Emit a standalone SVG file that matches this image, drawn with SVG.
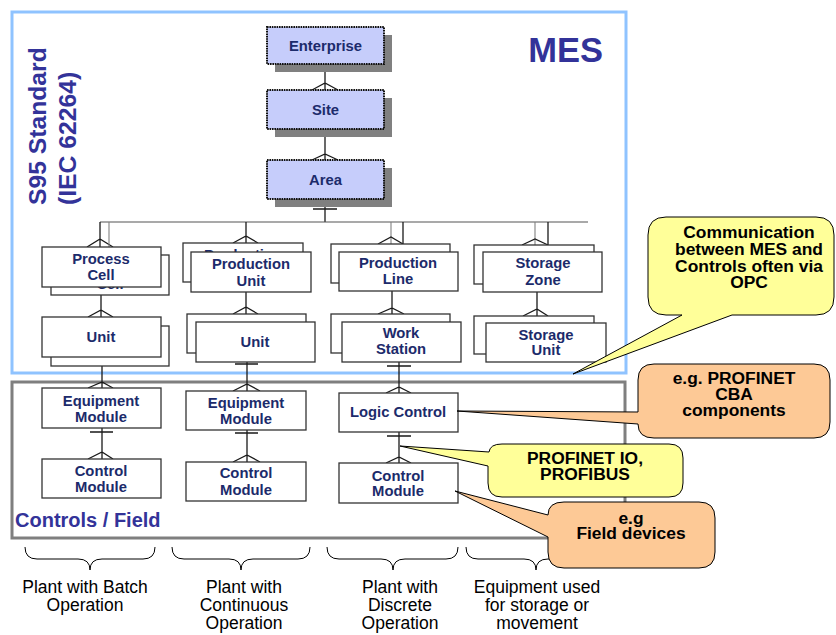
<svg xmlns="http://www.w3.org/2000/svg" width="836" height="635" viewBox="0 0 836 635">
<defs>
<style>
.frame-mes{fill:none;stroke:#8fc3ff;stroke-width:3}
.frame-ctl{fill:none;stroke:#7f7f7f;stroke-width:3}
.title{font-family:"Liberation Sans",Arial,sans-serif;font-weight:bold;fill:#333399}
.box{fill:#fff;stroke:#333;stroke-width:1.3}
.top{fill:#c6cdfb;stroke:#111;stroke-width:2;stroke-dasharray:1.6 0.8}
.shadow{fill:#808080}
.lbl{font-family:"Liberation Sans",Arial,sans-serif;font-weight:bold;font-size:14.8px;fill:#1c2b6b;text-anchor:middle}
.conn{fill:none;stroke:#1a1a1a;stroke-width:1.3}
.bus{fill:none;stroke:#555;stroke-width:1.2}
.thin{fill:none;stroke:#808080;stroke-width:1.1}
.yel{fill:#ffff99;stroke:#000;stroke-width:1}
.org{fill:#fdc996;stroke:#000;stroke-width:1}
.note{font-family:"Liberation Sans",Arial,sans-serif;font-weight:bold;font-size:17.4px;fill:#000;text-anchor:middle}
.brace{fill:none;stroke:#000;stroke-width:1}
.cap{font-family:"Liberation Sans",Arial,sans-serif;font-size:17.5px;fill:#000;text-anchor:middle}
</style>
</defs>

<!-- region frames -->
<g id="region-mes">
  <rect class="frame-mes" x="12" y="12" width="614" height="361"/>
  <text class="title" x="603" y="62" font-size="34.5" text-anchor="end">MES</text>
  <text class="title" font-size="24.7" transform="translate(46,205) rotate(-90)">S95 Standard</text>
  <text class="title" font-size="24.7" transform="translate(76,205) rotate(-90)">(IEC 62264)</text>
</g>
<g id="region-controls">
  <rect class="frame-ctl" x="12" y="382" width="613" height="156"/>
  <text class="title" x="15" y="527" font-size="20">Controls / Field</text>
</g>

<!-- connectors: lines, bars (one) and crow's feet (many) -->
<g id="connectors">
  <!-- enterprise / site / area chain -->
  <path class="conn" d="M325,64 V90 M312,90 L325,83 L338,90"/>
  <path class="conn" d="M325,129 V160 M313,133 H338 M312,160 L325,154 L338,160"/>
  <path class="conn" d="M325,199 V222 M313,209 H337"/>
  <path class="bus" d="M100,222 H588"/>
  <!-- batch column -->
  <path class="conn" d="M100,222 V247 M87,247 L100,239 L113,247"/>
  <path class="thin" d="M109,222 V255"/>
  <path class="conn" d="M101,287 V317 M90,290 H113 M88,317 L101,310 L113,317"/>
  <path class="conn" d="M102,357 V388 M90,361 H113 M88,388 L102,382 L113,388"/>
  <path class="conn" d="M102,428 V459 M90,432 H113 M88,459 L102,452 L113,459"/>
  <!-- continuous column -->
  <path class="conn" d="M246,222 V243 M233,243 L246,236 L258,243"/>
  <path class="conn" d="M246,292 V314 M233,314 L246,307 L258,314"/>
  <path class="conn" d="M247,362 V391 M235,364 H258 M233,391 L247,384 L260,391"/>
  <path class="conn" d="M247,430 V462 M235,433 H258 M233,462 L247,455 L260,462"/>
  <!-- discrete column -->
  <path class="thin" d="M391,222 V244"/>
  <path class="conn" d="M378,244 L391,237 L403,244"/>
  <path class="conn" d="M403,222 V252" stroke-width="1.6"/>
  <path class="conn" d="M392,291 V314 M378,314 L392,308 L404,314"/>
  <path class="conn" d="M399,362 V393 M387,366 H411 M386,393 L399,387 L411,393"/>
  <path class="conn" d="M399,432 V463 M387,436 H411 M386,463 L399,457 L411,463"/>
  <!-- storage column -->
  <path class="thin" d="M535,222 V245"/>
  <path class="conn" d="M522,245 L535,239 L548,245"/>
  <path class="conn" d="M548,222 V252" stroke-width="1.6"/>
  <path class="conn" d="M537,292 V316 M523,316 L537,309 L548,316"/>
</g>

<!-- top hierarchy -->
<g id="enterprise">
  <rect class="shadow" x="275" y="35" width="117" height="37"/>
  <rect class="top" x="267" y="27" width="117" height="37"/>
  <text class="lbl" x="325.5" y="51">Enterprise</text>
</g>
<g id="site">
  <rect class="shadow" x="275" y="98" width="117" height="39"/>
  <rect class="top" x="267" y="90" width="117" height="39"/>
  <text class="lbl" x="325.5" y="115">Site</text>
</g>
<g id="area">
  <rect class="shadow" x="275" y="168" width="117" height="39"/>
  <rect class="top" x="267" y="160" width="117" height="39"/>
  <text class="lbl" x="325.5" y="185">Area</text>
</g>

<!-- batch plant -->
<g id="process-cell">
  <rect class="box" x="51" y="255" width="118" height="40"/>
  <text class="lbl" x="110" y="272">Process</text>
  <text class="lbl" x="110" y="289">Cell</text>
  <rect class="box" x="42" y="247" width="119" height="40"/>
  <text class="lbl" x="101" y="264">Process</text>
  <text class="lbl" x="101" y="280">Cell</text>
</g>
<g id="unit-batch">
  <rect class="box" x="51" y="326" width="118" height="40"/>
  <rect class="box" x="42" y="317" width="119" height="40"/>
  <text class="lbl" x="101" y="342">Unit</text>
</g>
<g id="equipment-module-batch">
  <rect class="box" x="42" y="388" width="119" height="40"/>
  <text class="lbl" x="101" y="406">Equipment</text>
  <text class="lbl" x="101" y="422">Module</text>
</g>
<g id="control-module-batch">
  <rect class="box" x="42" y="459" width="119" height="39"/>
  <text class="lbl" x="101" y="476">Control</text>
  <text class="lbl" x="101" y="492">Module</text>
</g>

<!-- continuous plant -->
<g id="production-unit">
  <rect class="box" x="183" y="243" width="120" height="39"/>
  <text class="lbl" x="243" y="260">Production</text>
  <text class="lbl" x="243" y="277">Unit</text>
  <rect class="box" x="191" y="252" width="120" height="40"/>
  <text class="lbl" x="251" y="269">Production</text>
  <text class="lbl" x="251" y="286">Unit</text>
</g>
<g id="unit-continuous">
  <rect class="box" x="187" y="314" width="119" height="39"/>
  <rect class="box" x="196" y="322" width="119" height="40"/>
  <text class="lbl" x="255" y="347">Unit</text>
</g>
<g id="equipment-module-continuous">
  <rect class="box" x="186" y="391" width="120" height="39"/>
  <text class="lbl" x="246" y="408">Equipment</text>
  <text class="lbl" x="246" y="424">Module</text>
</g>
<g id="control-module-continuous">
  <rect class="box" x="186" y="462" width="120" height="39"/>
  <text class="lbl" x="246" y="478">Control</text>
  <text class="lbl" x="246" y="495">Module</text>
</g>

<!-- discrete plant -->
<g id="production-line">
  <rect class="box" x="331" y="244" width="119" height="39"/>
  <rect class="box" x="339" y="252" width="119" height="39"/>
  <text class="lbl" x="398" y="268">Production</text>
  <text class="lbl" x="398" y="284">Line</text>
</g>
<g id="work-station">
  <rect class="box" x="331" y="314" width="119" height="39"/>
  <rect class="box" x="342" y="322" width="119" height="40"/>
  <text class="lbl" x="401" y="338">Work</text>
  <text class="lbl" x="401" y="354">Station</text>
</g>
<g id="logic-control">
  <rect class="box" x="339" y="393" width="119" height="39"/>
  <text class="lbl" x="398" y="417">Logic Control</text>
</g>
<g id="control-module-discrete">
  <rect class="box" x="339" y="463" width="119" height="40"/>
  <text class="lbl" x="398" y="481">Control</text>
  <text class="lbl" x="398" y="496">Module</text>
</g>

<!-- storage / movement -->
<g id="storage-zone">
  <rect class="box" x="474" y="245" width="120" height="39"/>
  <rect class="box" x="483" y="252" width="119" height="40"/>
  <text class="lbl" x="543" y="268">Storage</text>
  <text class="lbl" x="543" y="285">Zone</text>
</g>
<g id="storage-unit">
  <rect class="box" x="474" y="316" width="120" height="38"/>
  <rect class="box" x="486" y="323" width="120" height="39"/>
  <text class="lbl" x="546" y="340">Storage</text>
  <text class="lbl" x="546" y="355">Unit</text>
</g>

<!-- callouts -->
<g id="note-opc">
  <path class="yel" d="M666,217 H816 Q834,217 834,235 V297 Q834,315 816,315 H732 L573,374 L682,315 H666 Q648,315 648,297 V235 Q648,217 666,217 Z"/>
  <text class="note" x="749" y="238">Communication</text>
  <text class="note" x="749" y="255">between MES and</text>
  <text class="note" x="749" y="272">Controls often via</text>
  <text class="note" x="749" y="288">OPC</text>
</g>
<g id="note-cba">
  <path class="org" d="M654,364 H814 Q830,364 830,380 V422 Q830,438 814,438 H654 Q638,438 638,424 L457,411 L638,412 V380 Q638,364 654,364 Z"/>
  <text class="note" x="734" y="384">e.g. PROFINET</text>
  <text class="note" x="734" y="400">CBA</text>
  <text class="note" x="734" y="416">components</text>
</g>
<g id="note-fieldbus">
  <path class="yel" d="M502,444 H669 Q683,444 683,458 V483 Q683,497 669,497 H502 Q488,497 488,483 V466 L400,446 L489,452 Q490,444 502,444 Z"/>
  <text class="note" x="585" y="464">PROFINET IO,</text>
  <text class="note" x="585" y="480">PROFIBUS</text>
</g>

<!-- braces and plant types -->
<g id="plant-types">
  <path class="brace" d="M25,547 Q25,559 37,559 H78 Q90,559 90,570 Q90,559 102,559 H143 Q155,559 155,547"/>
  <path class="brace" d="M172,547 Q172,559 184,559 H229 Q241,559 241,570 Q241,559 253,559 H298 Q310,559 310,547"/>
  <path class="brace" d="M327,547 Q327,559 339,559 H381 Q393,559 393,570 Q393,559 405,559 H446 Q458,559 458,547"/>
  <path class="brace" d="M466,547 Q466,559 478,559 H524 Q536,559 536,570 Q536,559 548,559 H594 Q606,559 606,547"/>
  <text class="cap" x="85" y="593">Plant with Batch</text>
  <text class="cap" x="85" y="611">Operation</text>
  <text class="cap" x="244" y="593">Plant with</text>
  <text class="cap" x="244" y="611">Continuous</text>
  <text class="cap" x="244" y="629">Operation</text>
  <text class="cap" x="400" y="593">Plant with</text>
  <text class="cap" x="400" y="611">Discrete</text>
  <text class="cap" x="400" y="629">Operation</text>
  <text class="cap" x="537" y="593">Equipment used</text>
  <text class="cap" x="537" y="611">for storage or</text>
  <text class="cap" x="537" y="629">movement</text>
</g>

<g id="note-field">
  <path class="org" d="M564,502 H699 Q715,502 715,518 V552 Q715,568 699,568 H564 Q548,568 548,552 V537 L455,491 L548,515 Q548,502 564,502 Z"/>
  <text class="note" x="631" y="524">e.g</text>
  <text class="note" x="631" y="539">Field devices</text>
</g>
</svg>
